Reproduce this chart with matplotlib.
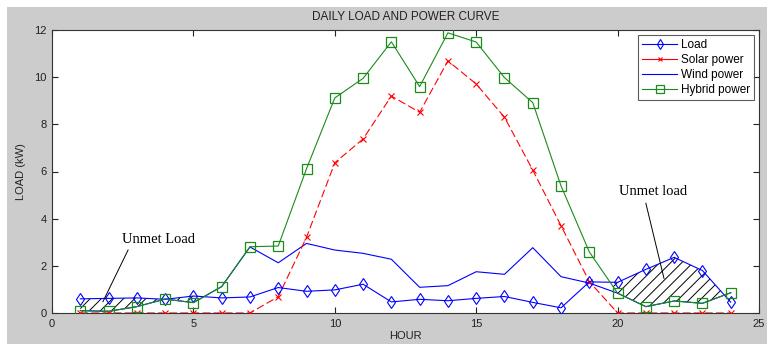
import numpy as np
import matplotlib
matplotlib.use("Agg")
import matplotlib.pyplot as plt
from matplotlib.patches import Rectangle

hours = np.arange(1, 25)

load = [0.60, 0.62, 0.64, 0.58, 0.72, 0.64, 0.68, 1.08, 0.92, 0.98, 1.22, 0.47,
        0.58, 0.52, 0.62, 0.70, 0.45, 0.22, 1.32, 1.30, 1.85, 2.36, 1.80, 0.46]
solar = [0, 0, 0, 0, 0, 0, 0, 0.69, 3.21, 6.37, 7.38, 9.20,
         8.51, 10.69, 9.71, 8.30, 6.06, 3.70, 1.33, 0, 0, 0, 0, 0]
wind = [0.10, 0.07, 0.27, 0.59, 0.44, 1.12, 2.80, 2.13, 2.95, 2.67, 2.53, 2.28,
        1.09, 1.16, 1.75, 1.64, 2.77, 1.54, 1.27, 0.84, 0.27, 0.51, 0.41, 0.86]
hybrid = [0.10, 0.07, 0.27, 0.59, 0.44, 1.12, 2.81, 2.84, 6.12, 9.12, 9.95, 11.50,
          9.60, 11.88, 11.49, 9.98, 8.92, 5.39, 2.59, 0.84, 0.27, 0.51, 0.41, 0.86]

xticks = [0, 5, 10, 15, 20, 25]
yticks = [0, 2, 4, 6, 8, 10, 12]

plt.rcParams["font.family"] = ["Liberation Sans", "DejaVu Sans"]
plt.rcParams["hatch.linewidth"] = 0.7

W, H = 767, 344
fig = plt.figure(figsize=(W / 100, H / 100), dpi=100, facecolor="white")
fig.patches.append(Rectangle((7 / W, 0), 1, 1 - 7 / H, transform=fig.transFigure,
                             facecolor="#cccccc", edgecolor="none", zorder=-10))

ax = fig.add_axes([52 / W, 1 - 313 / H, (759 - 52) / W, (313 - 30) / H])
ax.set_facecolor("white")

blue = "#0000ff"
red = "#ff0000"
green = "#1a8c1a"

# unmet load hatching
ld = np.array(load)
hy = np.array(hybrid)
ax.fill_between(hours, ld, hy, where=ld > hy, interpolate=True,
                facecolor="none", edgecolor="black", hatch="///", linewidth=0, zorder=1)

ax.plot(hours, load, color=blue, lw=0.8, marker="d", markersize=6.5,
        markerfacecolor="none", markeredgewidth=0.8, label="Load", zorder=4)
ax.plot(hours, solar, color=red, lw=0.8, ls=(0, (7, 3)), marker="x", markersize=4,
        markeredgewidth=0.8, label="Solar power", zorder=3)
ax.plot(hours, wind, color=blue, lw=0.8, label="Wind power", zorder=2)
ax.plot(hours, hybrid, color=green, lw=0.8, marker="s", markersize=7,
        markerfacecolor="none", markeredgewidth=0.9, label="Hybrid power", zorder=5)

ax.set_xlim(0, 25)
ax.set_ylim(0, 12)
ax.set_xticks(xticks)
ax.set_yticks(yticks)
ax.tick_params(direction="in", length=4, width=0.8, top=True, right=True,
               labelsize=8, pad=4, colors="#222222")
for s in ax.spines.values():
    s.set_linewidth(0.8)
    s.set_color("#333333")

ax.set_xlabel("HOUR", fontsize=8, labelpad=2, color="#222222")
ax.set_ylabel("LOAD (kW)", fontsize=8, labelpad=6, color="#222222")
fig.text(405.5 / W, 1 - 17 / H, "DAILY LOAD AND POWER CURVE", ha="center", va="center",
         fontsize=8.5, color="#222222")

leg = ax.legend(loc="upper right", fontsize=8.5, frameon=True, fancybox=False,
                borderaxespad=0.4, handlelength=3.0, labelspacing=0.25,
                handletextpad=0.3, borderpad=0.35, markerscale=0.8)
leg.get_frame().set_edgecolor("#333333")
leg.get_frame().set_linewidth(0.8)
for h in leg.get_lines():
    h.set_linestyle("-")

serif = ["Liberation Serif", "DejaVu Serif"]
ax.text(3.76, 3.13, "Unmet Load", family=serif, fontsize=10.5, ha="center", va="center")
ax.plot([2.69, 1.8], [2.67, 0.48], color="black", lw=0.7, zorder=6)
ax.text(21.25, 5.17, "Unmet load", family=serif, fontsize=10.5, ha="center", va="center")
ax.plot([21.0, 21.64], [4.65, 1.47], color="black", lw=0.7, zorder=6)

fig.savefig("out.png", dpi=100, facecolor=fig.get_facecolor())
